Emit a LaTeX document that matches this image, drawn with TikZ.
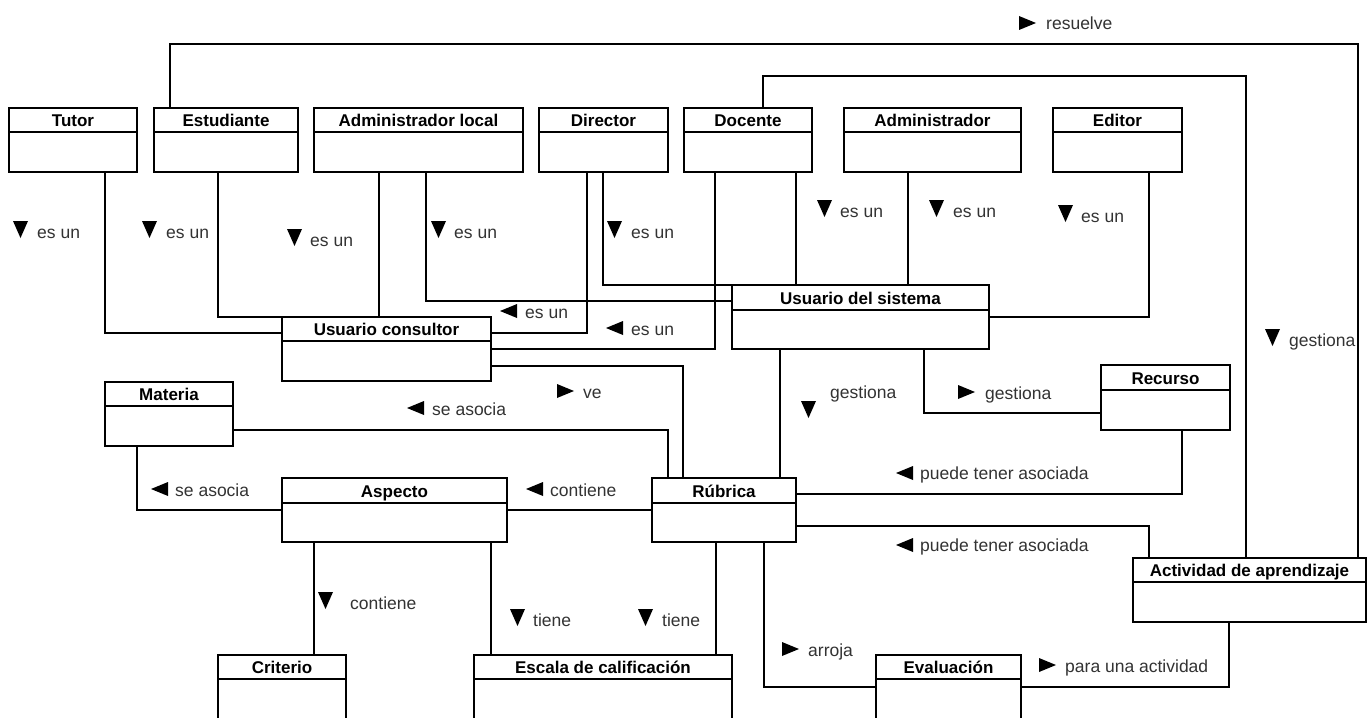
\documentclass[tikz,border=0pt]{standalone}
\usepackage{fontspec}
\setmainfont{Liberation Sans}
\usetikzlibrary{calc}
\tikzset{
  classbox/.style={draw=black, line width=1.6pt, inner sep=0pt, outer sep=0pt, fill=white},
  classtitle/.style={font=\fontsize{17}{20}\selectfont\bfseries, inner sep=0pt, text=black},
  lbl/.style={font=\fontsize{17.5}{20}\selectfont, inner sep=0pt, text=black!80},
  conn/.style={draw=black, line width=1.6pt},
}
\newcommand{\umlclass}[7]{%
  \node[classbox, anchor=north west, minimum width={(#3-#2)*1pt}, minimum height={(#6-#4)*1pt}] (#1) at (#2,#4) {};
  \draw[line width=1.6pt] (#1.west |- 0,#5) -- (#1.east |- 0,#5);
  \node[classtitle, anchor=base] (#1t) at ({(#2+#3)/2},{#5-5.5}) {#7};
}
\newcommand{\tridown}[2]{\fill[black] (#1,#2) -- ++(15,0) -- ++(-7.5,17) -- cycle;}
\newcommand{\trileft}[2]{\fill[black] ({#1+17},#2) -- ++(0,14) -- ++(-17,-7) -- cycle;}
\newcommand{\triright}[2]{\fill[black] (#1,#2) -- ++(0,14) -- ++(17,-7) -- cycle;}
\begin{document}
\begin{tikzpicture}[x=1pt,y=-1pt]
\useasboundingbox (0,0) rectangle (1367,717);
\clip (0,0) rectangle (1367,717);
\fill[white] (0,0) rectangle (1367,717);

% classes
\umlclass{tutor}{9}{137}{108}{132}{172}{Tutor}
\umlclass{est}{154}{298}{108}{132}{172}{Estudiante}
\umlclass{adml}{314}{523}{108}{132}{172}{Administrador local}
\umlclass{dir}{539}{668}{108}{132}{172}{Director}
\umlclass{doc}{684}{812}{108}{132}{172}{Docente}
\umlclass{adm}{844}{1021}{108}{132}{172}{Administrador}
\umlclass{edit}{1053}{1182}{108}{132}{172}{Editor}
\umlclass{cons}{282}{491}{317}{341}{381}{Usuario consultor}
\umlclass{sis}{732}{989}{285}{310}{349}{Usuario del sistema}
\umlclass{mat}{105}{233}{382}{406}{446}{Materia}
\umlclass{rec}{1101}{1230}{365}{390}{430}{Recurso}
\umlclass{asp}{282}{507}{478}{503}{542}{Aspecto}
\umlclass{rub}{652}{796}{478}{503}{542}{Rúbrica}
\umlclass{act}{1133}{1366}{558}{582}{622}{Actividad de aprendizaje}
\umlclass{cri}{218}{346}{655}{679}{740}{Criterio}
\umlclass{esc}{474}{732}{655}{679}{740}{Escala de calificación}
\umlclass{eva}{876}{1021}{655}{679}{740}{Evaluación}

% connectors
\draw[conn] (est.north -| 170,0) -- (170,44) -- (1358,44) -- (act.north -| 1358,0);
\draw[conn] (doc.north -| 763,0) -- (763,76) -- (1246,76) -- (act.north -| 1246,0);
\draw[conn] (tutor.south -| 105,0) -- (105,333) -- (cons.west |- 0,333);
\draw[conn] (est.south -| 218,0) -- (218,317) -- (cons.north west);
\draw[conn] (adml.south -| 379,0) -- (cons.north -| 379,0);
\draw[conn] (adml.south -| 426,0) -- (426,301) -- (sis.west |- 0,301);
\draw[conn] (dir.south -| 587,0) -- (587,333) -- (cons.east |- 0,333);
\draw[conn] (dir.south -| 603,0) -- (603,285) -- (sis.north west);
\draw[conn] (doc.south -| 715,0) -- (715,349) -- (cons.east |- 0,349);
\draw[conn] (doc.south -| 796,0) -- (sis.north -| 796,0);
\draw[conn] (adm.south -| 908,0) -- (sis.north -| 908,0);
\draw[conn] (edit.south -| 1149,0) -- (1149,317) -- (sis.east |- 0,317);
\draw[conn] (cons.east |- 0,366) -- (683,366) -- (rub.north -| 683,0);
\draw[conn] (mat.east |- 0,430) -- (668,430) -- (rub.north -| 668,0);
\draw[conn] (mat.south -| 137,0) -- (137,510) -- (asp.west |- 0,510);
\draw[conn] (asp.east |- 0,510) -- (rub.west |- 0,510);
\draw[conn] (sis.south -| 780,0) -- (rub.north -| 780,0);
\draw[conn] (sis.south -| 924,0) -- (924,413) -- (rec.west |- 0,413);
\draw[conn] (rec.south -| 1182,0) -- (1182,494) -- (rub.east |- 0,494);
\draw[conn] (rub.east |- 0,526) -- (1149,526) -- (act.north -| 1149,0);
\draw[conn] (asp.south -| 314,0) -- (cri.north -| 314,0);
\draw[conn] (asp.south -| 491,0) -- (esc.north -| 491,0);
\draw[conn] (rub.south -| 716,0) -- (esc.north -| 716,0);
\draw[conn] (rub.south -| 764,0) -- (764,687) -- (eva.west |- 0,687);
\draw[conn] (act.south -| 1229,0) -- (1229,687) -- (eva.east |- 0,687);

% labels
\tridown{13}{221}   \node[lbl, anchor=base west] (l1) at (37,238) {es un};
\tridown{142}{221}  \node[lbl, anchor=base west] (l2) at (166,238) {es un};
\tridown{287}{229}  \node[lbl, anchor=base west] (l3) at (310,246) {es un};
\tridown{431}{221}  \node[lbl, anchor=base west] (l4) at (454,238) {es un};
\tridown{607}{221}  \node[lbl, anchor=base west] (l5) at (631,238) {es un};
\trileft{500}{304}  \node[lbl, anchor=base west] (l6) at (525,318) {es un};
\trileft{606}{321}  \node[lbl, anchor=base west] (l7) at (631,335) {es un};
\triright{1019}{16} \node[lbl, anchor=base west] (l8) at (1046,30) {resuelve};
\tridown{817}{200}  \node[lbl, anchor=base west] (l9) at (840,217) {es un};
\tridown{929}{200}  \node[lbl, anchor=base west] (l10) at (953,217) {es un};
\tridown{1058}{205} \node[lbl, anchor=base west] (l11) at (1081,222) {es un};
\tridown{1265}{329} \node[lbl, anchor=base west] (l12) at (1289,346) {gestiona};
\tridown{801}{401}  \node[lbl, anchor=base west] (l13) at (830,398) {gestiona};
\triright{958}{385} \node[lbl, anchor=base west] (l14) at (985,399) {gestiona};
\trileft{896}{466}  \node[lbl, anchor=base west] (l15) at (920,479) {puede tener asociada};
\trileft{896}{538}  \node[lbl, anchor=base west] (l16) at (920,551) {puede tener asociada};
\triright{782}{642} \node[lbl, anchor=base west] (l17) at (808,656) {arroja};
\triright{1039}{658} \node[lbl, anchor=base west] (l18) at (1065,672) {para una actividad};
\triright{557}{384} \node[lbl, anchor=base west] (l19) at (583,398) {ve};
\trileft{407}{401}  \node[lbl, anchor=base west] (l20) at (432,415) {se asocia};
\trileft{151}{482}  \node[lbl, anchor=base west] (l21) at (175,496) {se asocia};
\trileft{526}{482}  \node[lbl, anchor=base west] (l22) at (550,496) {contiene};
\tridown{318}{592}  \node[lbl, anchor=base west] (l23) at (350,609) {contiene};
\tridown{510}{609}  \node[lbl, anchor=base west] (l24) at (533,626) {tiene};
\tridown{638}{609}  \node[lbl, anchor=base west] (l25) at (662,626) {tiene};
\end{tikzpicture}
\end{document}
